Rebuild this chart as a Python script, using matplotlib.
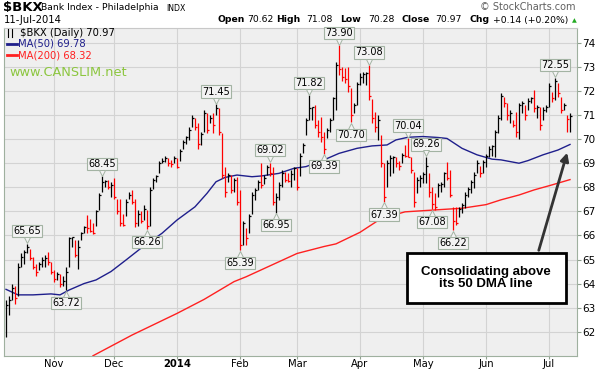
import numpy as np
import pandas as pd
import matplotlib
matplotlib.use('Agg')
import matplotlib.pyplot as plt
import matplotlib.transforms as mtransforms
from matplotlib.lines import Line2D
from matplotlib.patches import Rectangle

# daily bars of $BKX, 10-Oct-2013 .. 11-Jul-2014
highs = [63.3, 63.5, 64.0, 63.9, 64.85, 65.25, 65.4, 65.65, 65.45, 65.1,
         64.8, 64.9, 65.1, 65.2, 65.3, 64.9, 64.55, 64.5, 64.4, 64.3,
         64.7, 65.95, 65.95, 65.8, 65.8, 66.15, 66.4, 66.85, 66.7, 66.5,
         67.05, 67.75, 68.45, 68.3, 68.3, 68.2, 68.4, 67.5, 67.5, 66.9,
         67.5, 67.8, 67.9, 67.5, 67.05, 67.0, 67.25, 67.05, 68.0, 68.4,
         68.5, 69.1, 69.2, 69.3, 69.2, 69.15, 69.3, 69.2, 69.6, 69.96,
         70.15, 70.5, 71.0, 70.9, 70.66, 70.3, 71.2, 71.07, 71.0, 71.07,
         71.45, 71.28, 70.24, 68.85, 68.6, 68.5, 68.4, 68.44, 67.9, 66.6,
         66.3, 66.9, 67.8, 67.96, 68.3, 69.0, 68.5, 68.93, 69.02, 68.86,
         67.75, 68.2, 68.7, 68.65, 68.6, 68.7, 68.86, 68.8, 69.41, 69.83,
         70.87, 71.82, 71.35, 71.42, 70.8, 70.94, 70.3, 70.45, 70.87, 71.77,
         73.22, 73.9, 73.02, 72.95, 73.0, 72.12, 71.5, 72.39, 72.74, 72.8,
         72.8, 73.08, 71.66, 71.15, 71.0, 70.18, 68.99, 69.14, 69.35, 69.3,
         69.27, 69.1, 69.41, 69.76, 70.04, 69.27, 68.65, 68.44, 68.5, 68.65,
         69.26, 68.58, 68.03, 67.75, 68.17, 68.2, 68.65, 69.06, 68.72, 67.2,
         67.2, 67.2, 67.33, 67.82, 68.03, 68.3, 68.65, 69.14, 68.9, 69.14,
         69.4, 69.7, 69.75, 70.38, 71.0, 71.9, 71.77, 71.5, 71.2, 70.8,
         71.15, 71.49, 71.6, 71.42, 71.7, 71.77, 72.05, 71.42, 71.35, 71.35,
         71.42, 72.32, 71.98, 72.55, 72.32, 71.77, 71.49, 71.0, 71.08]
lows = [61.8, 62.7, 63.3, 63.15, 63.5, 64.7, 64.8, 65.25, 64.98, 64.6,
        64.3, 64.55, 64.7, 64.7, 64.78, 64.4, 64.08, 64.15, 63.87, 63.9,
        63.72, 64.7, 65.5, 65.1, 64.6, 65.8, 66.1, 66.1, 66.15, 66.05,
        66.4, 67.05, 67.8, 68.0, 67.95, 67.6, 67.5, 66.9, 66.4, 66.4,
        66.8, 67.5, 67.3, 66.35, 66.4, 66.5, 66.65, 66.26, 66.4, 67.95,
        68.2, 68.6, 69.0, 69.05, 68.9, 68.85, 69.0, 68.8, 69.1, 69.6,
        69.8, 69.96, 70.5, 70.4, 69.6, 69.76, 70.3, 70.24, 70.66, 70.24,
        71.0, 70.17, 68.37, 67.6, 68.2, 67.75, 67.8, 67.27, 65.39, 65.6,
        65.6, 66.1, 66.9, 67.47, 67.9, 67.96, 68.15, 68.5, 68.45, 67.26,
        66.95, 67.47, 68.0, 68.2, 68.2, 68.03, 68.3, 67.9, 68.45, 69.41,
        70.18, 70.8, 70.8, 70.45, 70.1, 69.9, 69.39, 70.04, 70.31, 70.8,
        71.22, 72.67, 72.4, 72.32, 71.98, 70.7, 71.08, 71.42, 72.25, 72.32,
        72.25, 71.63, 70.66, 70.31, 69.97, 68.86, 67.39, 68.03, 68.45, 68.6,
        68.86, 68.7, 69.0, 69.27, 69.27, 68.58, 67.2, 67.75, 68.0, 68.17,
        68.17, 67.61, 67.08, 67.06, 67.6, 67.8, 68.03, 68.3, 67.6, 66.22,
        66.45, 66.78, 66.92, 67.13, 67.6, 67.75, 67.96, 68.58, 68.44, 68.58,
        68.86, 69.28, 69.3, 69.28, 70.24, 70.8, 71.35, 70.8, 70.66, 70.52,
        70.1, 70.0, 71.08, 70.8, 71.2, 71.49, 71.15, 70.87, 70.38, 70.8,
        71.15, 71.35, 71.56, 71.63, 71.77, 71.08, 71.2, 70.31, 70.28]
closes = [63.1, 63.3, 63.8, 63.4, 64.7, 65.1, 65.3, 65.5, 65.05, 64.7,
          64.5, 64.8, 65.0, 65.05, 64.9, 64.5, 64.2, 64.4, 64.0, 64.1,
          64.5, 65.9, 65.92, 65.2, 65.5, 66.1, 66.35, 66.3, 66.2, 66.1,
          67.0, 67.7, 68.2, 68.25, 68.0, 68.1, 67.6, 67.0, 66.5, 66.45,
          67.4, 67.7, 67.4, 66.5, 66.9, 66.6, 67.1, 66.4, 67.9, 68.3,
          68.45, 69.0, 69.1, 69.2, 69.0, 68.95, 69.2, 68.85, 69.5, 69.9,
          70.1, 70.4, 70.9, 70.5, 69.8, 70.2, 71.1, 70.4, 70.9, 70.6,
          71.3, 70.3, 68.5, 67.8, 68.5, 67.9, 68.3, 67.4, 65.6, 66.5,
          65.9, 66.8, 67.7, 67.9, 68.2, 68.1, 68.4, 68.85, 68.6, 67.4,
          67.6, 68.1, 68.6, 68.3, 68.25, 68.55, 68.8, 68.0, 69.3, 69.75,
          70.8, 71.3, 71.32, 70.6, 70.3, 70.1, 69.6, 70.4, 70.8, 71.7,
          73.1, 72.9, 72.6, 72.5, 72.2, 71.0, 71.4, 72.3, 72.6, 72.7,
          72.75, 71.8, 70.9, 70.5, 70.8, 69.0, 67.6, 69.0, 69.2, 69.25,
          69.0, 68.9, 69.35, 69.3, 69.28, 68.7, 67.4, 68.3, 68.4, 68.55,
          68.9, 67.8, 67.3, 67.2, 68.1, 68.15, 68.6, 68.4, 67.7, 66.6,
          66.5, 67.1, 67.25, 67.7, 67.95, 68.2, 68.5, 69.0, 68.6, 69.05,
          69.3, 69.6, 69.7, 70.3, 70.9, 71.8, 71.5, 71.0, 71.1, 70.6,
          70.3, 71.4, 71.5, 71.0, 71.6, 71.7, 71.3, 71.35, 70.6, 71.2,
          71.35, 72.2, 71.7, 72.4, 71.9, 71.2, 71.4, 70.83, 70.97]

# moving averages, read at bar positions
ma50_pos = [0, 4, 9, 15, 18, 21, 26, 30, 35, 40, 45, 48, 52, 57, 63, 67, 70,
            73, 77, 82, 85, 91, 96, 100, 106, 111, 117, 122, 127, 130, 134,
            139, 144, 147, 152, 157, 162, 165, 171, 174, 179, 184, 188]
ma50_val = [63.76, 63.53, 63.53, 63.57, 63.53, 63.73, 64.0, 64.15, 64.5,
            64.98, 65.47, 65.74, 66.09, 66.64, 67.19, 67.75, 68.23, 68.41,
            68.51, 68.44, 68.47, 68.58, 68.79, 68.86, 69.14, 69.41, 69.62,
            69.72, 69.76, 69.97, 70.08, 70.11, 70.07, 70.03, 69.62, 69.35,
            69.17, 69.14, 69.0, 69.11, 69.35, 69.55, 69.78]
ma200_pos = [29, 42, 57, 66, 76, 80, 97, 106, 110, 118, 125, 133, 143, 152,
             160, 165, 171, 176, 182, 188]
ma200_val = [61.0, 61.86, 62.76, 63.34, 64.08, 64.28, 65.25, 65.54, 65.65,
             66.13, 66.7, 66.98, 67.06, 67.13, 67.28, 67.48, 67.68, 67.89,
             68.1, 68.32]

# labelled highs / lows
hi_pos = [7, 32, 70, 88, 101, 111, 121, 134, 140, 183]
hi_val = [65.65, 68.45, 71.45, 69.02, 71.82, 73.90, 73.08, 70.04, 69.26, 72.55]
lo_pos = [20, 47, 78, 90, 106, 115, 126, 142, 149]
lo_val = [63.72, 66.26, 65.39, 66.95, 69.39, 70.70, 67.39, 67.08, 66.22]

holidays = ['2013-11-28', '2013-12-25', '2014-01-01', '2014-01-20',
            '2014-02-17', '2014-04-18', '2014-05-26', '2014-07-04']
dates = pd.bdate_range('2013-10-10', '2014-07-11', freq='C', holidays=holidays)

W, H = 597, 370
fig = plt.figure(figsize=(W / 100, H / 100), dpi=100)
fig.patch.set_facecolor('white')


def fx(x):
    return x / W


def fy(y):
    return 1 - y / H


ax = fig.add_axes([fx(4), fy(356), (577 - 4) / W, (356 - 28) / H])
ax.set_facecolor('#efefef')

idx = np.arange(len(dates))
cols = ['black']
for k in range(1, len(closes)):
    cols.append('black' if closes[k] >= closes[k - 1] else '#ff0000')

ax.vlines(idx, lows, highs, colors=cols, lw=0.9, zorder=3)
ax.hlines(closes, idx, idx + 0.5, colors=cols, lw=0.9, zorder=3)

ax.plot(ma50_pos, ma50_val, color='#1f1f8c', lw=1.0, zorder=2)
ax.plot(ma200_pos, ma200_val, color='#ff2020', lw=1.0, zorder=2)

ax.set_xlim(-0.67, 190.33)
ax.set_ylim(60.99, 74.62)

# month ticks
mpos = [k for k in range(1, len(dates)) if dates[k].month != dates[k - 1].month]
mlab = ['2014' if dates[k].month == 1 else dates[k].strftime('%b') for k in mpos]
ax.set_xticks(mpos)
ax.set_xticklabels(mlab, fontsize=7.2)
for t in ax.get_xticklabels():
    if t.get_text() == '2014':
        t.set_fontweight('bold')
ax.set_yticks(range(62, 75))
ax.yaxis.tick_right()
ax.tick_params(axis='y', labelsize=7.5, length=3, pad=1, color='#8fa08f')
ax.tick_params(axis='x', length=2, pad=0.5, color='#8fa08f')
ax.grid(True, color='#d3d3d3', lw=0.8, zorder=0)
ax.set_axisbelow(True)
for s in ['left', 'right', 'bottom']:
    ax.spines[s].set_color('#9fb09f')
ax.spines['top'].set_color('#c8c8c8')

# high / low tags with a small pointer
box = dict(boxstyle='square,pad=0.12', fc='#f3f3f3', ec='#a3b3a3', lw=0.8)
up_tr = mtransforms.offset_copy(ax.transData, fig=fig, y=3.5, units='dots')
dn_tr = mtransforms.offset_copy(ax.transData, fig=fig, y=-3.5, units='dots')
for p, v in zip(hi_pos, hi_val):
    ax.annotate(f'{v:.2f}', xy=(p, v), xytext=(0, 5.5), textcoords='offset points',
                ha='center', va='bottom', fontsize=7, bbox=box, zorder=5)
    ax.plot([p], [v], marker='v', ms=5, mfc='#f3f3f3', mec='#a3b3a3', mew=0.7,
            transform=up_tr, zorder=6, linestyle='none')
for p, v in zip(lo_pos, lo_val):
    ax.annotate(f'{v:.2f}', xy=(p, v), xytext=(0, -5.5), textcoords='offset points',
                ha='center', va='top', fontsize=7, bbox=box, zorder=5)
    ax.plot([p], [v], marker='^', ms=5, mfc='#f3f3f3', mec='#a3b3a3', mew=0.7,
            transform=dn_tr, zorder=6, linestyle='none')

# header
fig.text(fx(3), fy(8), '$BKX', fontsize=9.5, fontweight='bold', va='center')
fig.text(fx(41), fy(8), 'Bank Index - Philadelphia', fontsize=6.7, va='center')
fig.text(fx(166), fy(8.5), 'INDX', fontsize=5.6, va='center')
fig.text(fx(576), fy(7), '\u00a9 StockCharts.com', fontsize=7, color='#606060',
         va='center', ha='right')
fig.text(fx(4), fy(20), '11-Jul-2014', fontsize=7.2, va='center')
hdr = [(217, 'Open', True), (247, '70.62', False), (276, 'High', True),
       (306, '71.08', False), (340, 'Low', True), (368, '70.28', False),
       (402, 'Close', True), (435, '70.97', False), (469, 'Chg', True),
       (493, '+0.14 (+0.20%)', False)]
for x, s, b in hdr:
    fig.text(fx(x), fy(20), s, fontsize=6.7, va='center',
             fontweight='bold' if b else 'normal')
fig.text(fx(574), fy(21), '\u25b2', fontsize=4.5, color='#22aa22', va='center', ha='center')

# legend inside the plot
fig.text(fx(20), fy(33), '$BKX (Daily) 70.97', fontsize=7.2, va='center')
fig.add_artist(Line2D([fx(8), fx(8)], [fy(29), fy(37)], color='black', lw=0.8))
fig.add_artist(Line2D([fx(12), fx(12)], [fy(29), fy(37)], color='black', lw=0.8))
fig.add_artist(Line2D([fx(7), fx(17)], [fy(44), fy(44)], color='#1f1f8c', lw=2))
fig.text(fx(18), fy(44), 'MA(50) 69.78', fontsize=7.2, va='center', color='#1f1f8c')
fig.add_artist(Line2D([fx(7), fx(17)], [fy(55), fy(55)], color='#ff2020', lw=2))
fig.text(fx(18), fy(55), 'MA(200) 68.32', fontsize=7.2, va='center', color='#ff2020')
fig.text(fx(9), fy(72), 'www.CANSLIM.net', fontsize=9.3, va='center', color='#8cc63f')

# callout
fig.add_artist(Rectangle((fx(407), fy(303)), 159 / W, 50 / H, transform=fig.transFigure,
                         fc='white', ec='black', lw=2, zorder=10))
fig.text(fx(486), fy(278), 'Consolidating above\nits 50 DMA line', fontsize=9.5,
         fontweight='bold', ha='center', va='center', zorder=11, linespacing=1.1,
         family=['Liberation Sans Narrow', 'Liberation Sans'])
ax.annotate('', xy=(568, H - 150), xytext=(538, H - 253), xycoords='figure pixels',
            textcoords='figure pixels',
            arrowprops=dict(arrowstyle='-|>', color='#333333', lw=2, mutation_scale=12),
            zorder=9)

fig.savefig('out.png', dpi=100)
